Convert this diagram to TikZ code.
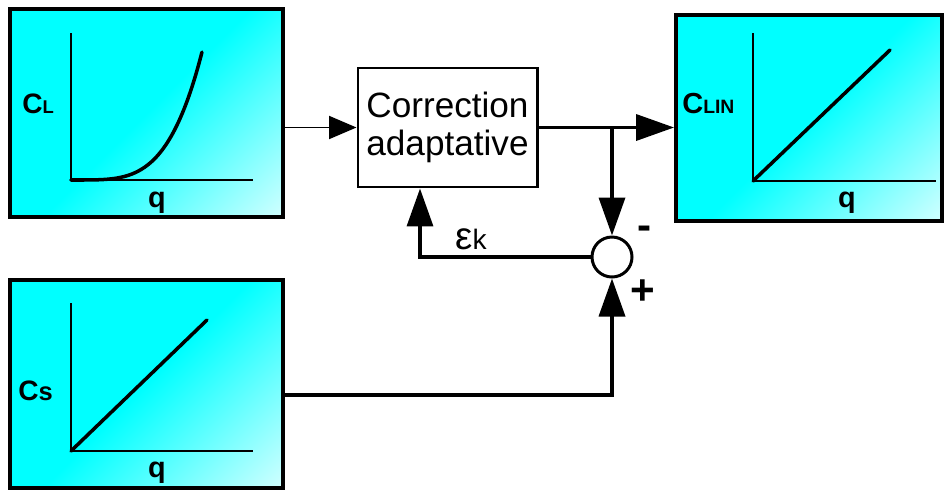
\documentclass[tikz,border=0pt]{standalone}
\usepackage{fontspec}
\setmainfont{Liberation Sans}
\usetikzlibrary{arrows.meta,calc}

\pgfdeclarehorizontalshading{cyanfade}{100bp}{color(0bp)=(cyan); color(50bp)=(cyan);
  color(88bp)=(cyan!12!white); color(100bp)=(cyan!4!white)}

\begin{document}
\begin{tikzpicture}[
  box/.style={draw=black,line width=2.2pt,shading=cyanfade,shading angle=-45,inner sep=0pt},
  blk/.style={draw=black,line width=1.7pt,fill=white,minimum width=3.58cm,
    minimum height=2.38cm,align=center,inner sep=0pt,
    font=\fontsize{20}{21.6}\selectfont},
  sumc/.style={circle,draw=black,line width=1.7pt,fill=white,minimum size=0.8cm,inner sep=0pt},
  ax/.style={line width=1.1pt,draw=black},
  crv/.style={line width=2pt,draw=black,line cap=round},
  sig/.style={line width=2pt,draw=black,-{Triangle[length=0.76cm,width=0.52cm]}},
  sigthin/.style={line width=1.1pt,draw=black,-{Triangle[length=0.55cm,width=0.46cm]}},
  big/.style={font=\fontsize{16}{18}\selectfont\bfseries,anchor=base west,inner sep=0pt},
  qlbl/.style={font=\fontsize{16.4}{18}\selectfont\bfseries,anchor=base,inner sep=0pt},
  sgn/.style={font=\fontsize{24}{26}\selectfont\bfseries,inner sep=0pt}
]
\useasboundingbox (0,0) rectangle (18.88,9.8);

% ================= blocks =================
\node[box,minimum width=5.46cm,minimum height=4.16cm] (cl) at (2.93,7.54) {};
\node[box,minimum width=5.46cm,minimum height=4.16cm] (cs) at (2.93,2.12) {};
\node[box,minimum width=5.32cm,minimum height=4.12cm] (clin) at (16.18,7.44) {};
\node[blk] (corr) at (8.95,7.25) {Correction\\adaptative};
\node[sumc] (sum) at (12.24,4.66) {};

% ================= graph C_L =================
\draw[ax] (1.42,9.14) -- (1.42,6.2) -- (5.06,6.2);
\draw[crv] plot[domain=0:1,samples=40,smooth] ({1.42+2.62*\x},{6.2+2.56*\x^4});
\node[big] at (0.44,7.54) {C{\fontsize{10.5}{12}\selectfont L}};
\node[qlbl] at (3.14,5.66) {q};

% ================= graph C_LIN =================
\draw[ax] (15.06,9.14) -- (15.06,6.18) -- (18.72,6.18);
\draw[crv] (15.06,6.18) -- (17.8,8.8);
\node[big,font=\fontsize{16.5}{18}\selectfont\bfseries] at (13.64,7.54)
  {C{\fontsize{11}{12}\selectfont LIN}};
\node[qlbl] at (16.94,5.66) {q};

% ================= graph C_s =================
\draw[ax] (1.42,3.74) -- (1.42,0.78) -- (5.06,0.78);
\draw[crv] (1.42,0.78) -- (4.14,3.4);
\node[big] at (0.36,1.8) {C{\fontsize{14.5}{16}\selectfont s}};
\node[qlbl] at (3.14,0.26) {q};

% ================= connectors =================
\coordinate (br) at (sum |- corr.east);
\draw[sigthin] (corr.west -| cl.east) -- (corr.west);
\draw[sig] (corr.east) -- (corr.east -| clin.west);
\draw[sig] (br) -- (sum.north);
\draw[sig] (sum.west) -| ([xshift=-0.55cm]corr.south);
\draw[sig] ([yshift=-0.22cm]cs.east) -| (sum.south);

% ================= labels =================
\node[anchor=base west,inner sep=0pt] (eps) at (9.1,4.82)
  {{\fontsize{22}{24}\selectfont ε}{\fontsize{16}{18}\selectfont k}};
\node[sgn] (minus) at (12.9,5.14) {-};
\node[sgn] (plus) at (12.86,3.96) {+};

\end{tikzpicture}
\end{document}
